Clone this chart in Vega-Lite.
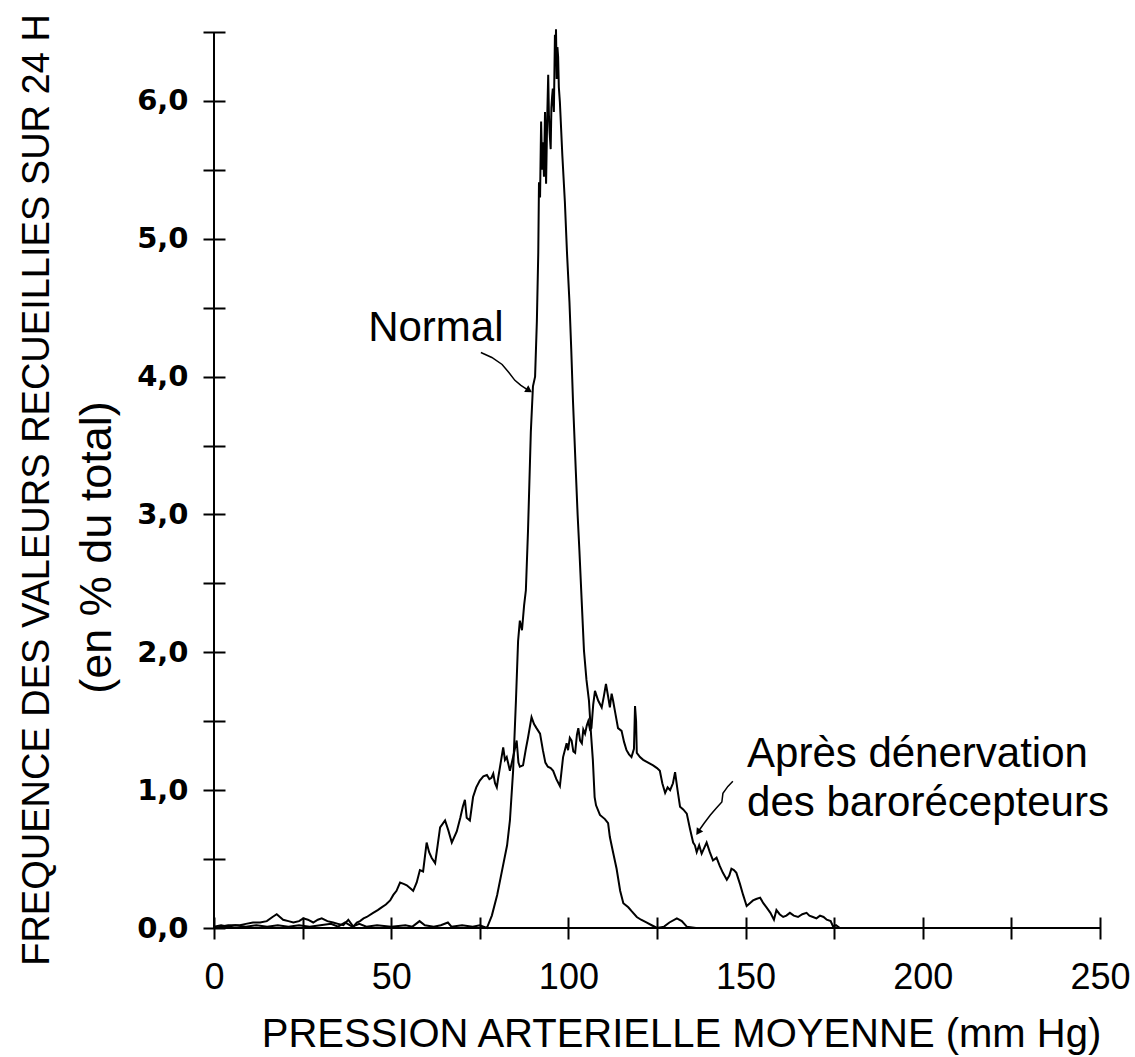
{
  "$schema": "https://vega.github.io/schema/vega-lite/v6.json",
  "width": 886,
  "height": 896,
  "autosize": {"type": "none"},
  "padding": {"left": 214, "top": 32, "right": 35, "bottom": 129},
  "background": "white",
  "config": {"view": {"stroke": null}},
  "title": {
    "text": "FREQUENCE DES VALEURS RECUEILLIES SUR 24 H",
    "orient": "left",
    "anchor": "middle",
    "frame": "group",
    "font": "Liberation Sans",
    "fontSize": 38,
    "fontWeight": "normal",
    "color": "black",
    "offset": 17,
    "dx": -10
  },
  "datasets": {
    "curves": [
      {"s":"N","x":0,"y":0.01},{"s":"N","x":2,"y":0.02},{"s":"N","x":4,"y":0.01},{"s":"N","x":6,"y":0.02},{"s":"N","x":9,"y":0.01},{"s":"N","x":12,"y":0.02},{"s":"N","x":15,"y":0.01},{"s":"N","x":18,"y":0.02},{"s":"N","x":21,"y":0.01},{"s":"N","x":24,"y":0.02},{"s":"N","x":27,"y":0.01},{"s":"N","x":30,"y":0.02},{"s":"N","x":33,"y":0.03},{"s":"N","x":35,"y":0.01},{"s":"N","x":37,"y":0.04},{"s":"N","x":39,"y":0.01},{"s":"N","x":41,"y":0.03},{"s":"N","x":43,"y":0.01},{"s":"N","x":46,"y":0.02},{"s":"N","x":50,"y":0.01},{"s":"N","x":54,"y":0.02},{"s":"N","x":56,"y":0.01},{"s":"N","x":58,"y":0.05},{"s":"N","x":59.5,"y":0.02},{"s":"N","x":62,"y":0.01},{"s":"N","x":64,"y":0.02},{"s":"N","x":66,"y":0.04},{"s":"N","x":67,"y":0.01},{"s":"N","x":70,"y":0.02},{"s":"N","x":73,"y":0.01},{"s":"N","x":75,"y":0.02},{"s":"N","x":77,"y":0.0},
      {"s":"N","x":78.4,"y":0.09},{"s":"N","x":79.9,"y":0.24},{"s":"N","x":81.3,"y":0.42},{"s":"N","x":82.7,"y":0.6},{"s":"N","x":83.5,"y":0.78},{"s":"N","x":84.4,"y":1.14},{"s":"N","x":85.2,"y":1.65},{"s":"N","x":85.8,"y":2.08},{"s":"N","x":86.3,"y":2.23},{"s":"N","x":86.9,"y":2.16},{"s":"N","x":87.5,"y":2.34},{"s":"N","x":88.0,"y":2.45},{"s":"N","x":88.6,"y":2.88},{"s":"N","x":89.4,"y":3.6},{"s":"N","x":90.0,"y":3.93},{"s":"N","x":90.6,"y":4.0},{"s":"N","x":91.1,"y":4.4},{"s":"N","x":91.5,"y":4.9},{"s":"N","x":91.7,"y":5.41},{"s":"N","x":92.0,"y":5.3},{"s":"N","x":92.3,"y":5.85},{"s":"N","x":92.6,"y":5.5},{"s":"N","x":92.8,"y":5.7},{"s":"N","x":93.1,"y":5.45},{"s":"N","x":93.4,"y":5.92},{"s":"N","x":93.7,"y":5.4},{"s":"N","x":94.0,"y":5.85},{"s":"N","x":94.3,"y":6.19},{"s":"N","x":94.5,"y":5.9},{"s":"N","x":94.7,"y":5.77},{"s":"N","x":95.0,"y":5.65},{"s":"N","x":95.2,"y":5.95},{"s":"N","x":95.4,"y":6.03},{"s":"N","x":95.6,"y":6.09},{"s":"N","x":95.9,"y":5.92},{"s":"N","x":96.2,"y":6.48},{"s":"N","x":96.4,"y":6.3},{"s":"N","x":96.5,"y":6.52},{"s":"N","x":96.7,"y":6.16},{"s":"N","x":96.9,"y":6.39},{"s":"N","x":97.1,"y":6.32},{"s":"N","x":97.3,"y":6.1},{"s":"N","x":97.6,"y":5.99},{"s":"N","x":98.3,"y":5.6},{"s":"N","x":99.0,"y":5.27},{"s":"N","x":99.6,"y":4.9},{"s":"N","x":100.3,"y":4.54},{"s":"N","x":100.8,"y":4.2},{"s":"N","x":101.3,"y":3.82},{"s":"N","x":102.1,"y":3.31},{"s":"N","x":102.6,"y":3.0},{"s":"N","x":103.1,"y":2.74},{"s":"N","x":103.7,"y":2.4},{"s":"N","x":104.4,"y":2.01},{"s":"N","x":105.1,"y":1.8},{"s":"N","x":105.8,"y":1.65},{"s":"N","x":106.4,"y":1.4},{"s":"N","x":106.9,"y":1.22},{"s":"N","x":107.4,"y":0.95},{"s":"N","x":107.8,"y":0.89},{"s":"N","x":108.9,"y":0.82},{"s":"N","x":110.3,"y":0.79},{"s":"N","x":111.2,"y":0.76},{"s":"N","x":111.7,"y":0.66},{"s":"N","x":112.6,"y":0.55},{"s":"N","x":113.6,"y":0.43},{"s":"N","x":114.6,"y":0.27},{"s":"N","x":115.5,"y":0.18},{"s":"N","x":116.9,"y":0.15},{"s":"N","x":117.9,"y":0.12},{"s":"N","x":119.3,"y":0.08},{"s":"N","x":120.5,"y":0.06},{"s":"N","x":122,"y":0.04},{"s":"N","x":123.5,"y":0.02},{"s":"N","x":125,"y":0.0},{"s":"N","x":127,"y":0.01},{"s":"N","x":128.5,"y":0.04},{"s":"N","x":130.6,"y":0.07},{"s":"N","x":132,"y":0.05},{"s":"N","x":133.4,"y":0.01},{"s":"N","x":136,"y":0.0},{"s":"N","x":140,"y":0.0},
      {"s":"B","x":0.5,"y":0.0},{"s":"B","x":1.7,"y":0.01},{"s":"B","x":4,"y":0.02},{"s":"B","x":7.3,"y":0.02},{"s":"B","x":9,"y":0.03},{"s":"B","x":11,"y":0.04},{"s":"B","x":13,"y":0.04},{"s":"B","x":14.9,"y":0.05},{"s":"B","x":16.5,"y":0.08},{"s":"B","x":17.7,"y":0.1},{"s":"B","x":18.6,"y":0.08},{"s":"B","x":19.5,"y":0.06},{"s":"B","x":21,"y":0.05},{"s":"B","x":22.4,"y":0.04},{"s":"B","x":24,"y":0.05},{"s":"B","x":25.2,"y":0.07},{"s":"B","x":26.5,"y":0.06},{"s":"B","x":28,"y":0.04},{"s":"B","x":29.3,"y":0.06},{"s":"B","x":30.4,"y":0.07},{"s":"B","x":32,"y":0.05},{"s":"B","x":33.6,"y":0.04},{"s":"B","x":35,"y":0.03},{"s":"B","x":36.5,"y":0.02},{"s":"B","x":37.9,"y":0.06},{"s":"B","x":39.3,"y":0.01},{"s":"B","x":40.3,"y":0.04},{"s":"B","x":41.2,"y":0.05},{"s":"B","x":42.2,"y":0.07},{"s":"B","x":43.1,"y":0.08},{"s":"B","x":44.9,"y":0.11},{"s":"B","x":46.2,"y":0.13},{"s":"B","x":47.3,"y":0.15},{"s":"B","x":48.5,"y":0.17},{"s":"B","x":49.7,"y":0.2},{"s":"B","x":50.6,"y":0.24},{"s":"B","x":51.5,"y":0.27},{"s":"B","x":52.5,"y":0.33},{"s":"B","x":53.5,"y":0.32},{"s":"B","x":54.4,"y":0.31},{"s":"B","x":55.3,"y":0.29},{"s":"B","x":56.2,"y":0.27},{"s":"B","x":57.2,"y":0.33},{"s":"B","x":58.1,"y":0.42},{"s":"B","x":59,"y":0.41},{"s":"B","x":60,"y":0.62},{"s":"B","x":60.7,"y":0.55},{"s":"B","x":61.4,"y":0.51},{"s":"B","x":62.4,"y":0.47},{"s":"B","x":63.1,"y":0.6},{"s":"B","x":63.8,"y":0.73},{"s":"B","x":65.2,"y":0.78},{"s":"B","x":66.1,"y":0.71},{"s":"B","x":67.1,"y":0.62},{"s":"B","x":68.5,"y":0.7},{"s":"B","x":69.5,"y":0.8},{"s":"B","x":70.2,"y":0.88},{"s":"B","x":70.8,"y":0.93},{"s":"B","x":71.3,"y":0.8},{"s":"B","x":72.2,"y":0.78},{"s":"B","x":73.1,"y":0.95},{"s":"B","x":74,"y":1.02},{"s":"B","x":75,"y":1.07},{"s":"B","x":76,"y":1.1},{"s":"B","x":77,"y":1.11},{"s":"B","x":77.7,"y":1.08},{"s":"B","x":78.3,"y":1.09},{"s":"B","x":78.8,"y":1.12},{"s":"B","x":79.3,"y":1.05},{"s":"B","x":79.8,"y":1.02},{"s":"B","x":80.2,"y":1.09},{"s":"B","x":80.9,"y":1.2},{"s":"B","x":81.6,"y":1.31},{"s":"B","x":82.1,"y":1.22},{"s":"B","x":82.6,"y":1.24},{"s":"B","x":83.5,"y":1.14},{"s":"B","x":84.4,"y":1.24},{"s":"B","x":84.9,"y":1.3},{"s":"B","x":85.4,"y":1.36},{"s":"B","x":85.9,"y":1.2},{"s":"B","x":86.3,"y":1.17},{"s":"B","x":87.2,"y":1.18},{"s":"B","x":88,"y":1.3},{"s":"B","x":88.6,"y":1.38},{"s":"B","x":89.6,"y":1.53},{"s":"B","x":90.3,"y":1.48},{"s":"B","x":91,"y":1.45},{"s":"B","x":92,"y":1.41},{"s":"B","x":92.8,"y":1.29},{"s":"B","x":93.5,"y":1.2},{"s":"B","x":94.2,"y":1.17},{"s":"B","x":95,"y":1.16},{"s":"B","x":95.7,"y":1.14},{"s":"B","x":96.6,"y":1.08},{"s":"B","x":97.6,"y":1.03},{"s":"B","x":98.5,"y":1.24},{"s":"B","x":99.5,"y":1.34},{"s":"B","x":99.9,"y":1.29},{"s":"B","x":100.4,"y":1.38},{"s":"B","x":100.9,"y":1.36},{"s":"B","x":101.4,"y":1.28},{"s":"B","x":101.9,"y":1.27},{"s":"B","x":102.4,"y":1.4},{"s":"B","x":102.8,"y":1.45},{"s":"B","x":103.3,"y":1.36},{"s":"B","x":103.8,"y":1.34},{"s":"B","x":104.2,"y":1.44},{"s":"B","x":104.7,"y":1.41},{"s":"B","x":105.2,"y":1.47},{"s":"B","x":105.6,"y":1.5},{"s":"B","x":106.1,"y":1.44},{"s":"B","x":106.5,"y":1.45},{"s":"B","x":107,"y":1.62},{"s":"B","x":107.5,"y":1.72},{"s":"B","x":108.4,"y":1.65},{"s":"B","x":109.4,"y":1.6},{"s":"B","x":110,"y":1.68},{"s":"B","x":110.6,"y":1.77},{"s":"B","x":111.2,"y":1.68},{"s":"B","x":111.7,"y":1.6},{"s":"B","x":112.2,"y":1.7},{"s":"B","x":112.6,"y":1.65},{"s":"B","x":113.3,"y":1.55},{"s":"B","x":114,"y":1.45},{"s":"B","x":115,"y":1.43},{"s":"B","x":115.7,"y":1.35},{"s":"B","x":116.4,"y":1.29},{"s":"B","x":117.1,"y":1.26},{"s":"B","x":117.8,"y":1.24},{"s":"B","x":118.5,"y":1.3},{"s":"B","x":118.8,"y":1.61},{"s":"B","x":119.1,"y":1.5},{"s":"B","x":119.3,"y":1.27},{"s":"B","x":120.2,"y":1.24},{"s":"B","x":121.1,"y":1.22},{"s":"B","x":122.5,"y":1.2},{"s":"B","x":123.9,"y":1.18},{"s":"B","x":125,"y":1.16},{"s":"B","x":125.8,"y":1.14},{"s":"B","x":126.5,"y":1.05},{"s":"B","x":127.3,"y":0.98},{"s":"B","x":128,"y":1.02},{"s":"B","x":128.7,"y":1.0},{"s":"B","x":129.5,"y":1.05},{"s":"B","x":130.1,"y":1.13},{"s":"B","x":130.8,"y":1.0},{"s":"B","x":131.5,"y":0.88},{"s":"B","x":132.4,"y":0.86},{"s":"B","x":133.4,"y":0.83},{"s":"B","x":134.3,"y":0.72},{"s":"B","x":135.2,"y":0.62},{"s":"B","x":135.7,"y":0.6},{"s":"B","x":136.2,"y":0.55},{"s":"B","x":136.9,"y":0.6},{"s":"B","x":137.6,"y":0.54},{"s":"B","x":138.3,"y":0.58},{"s":"B","x":139,"y":0.62},{"s":"B","x":139.9,"y":0.55},{"s":"B","x":140.8,"y":0.49},{"s":"B","x":141.8,"y":0.51},{"s":"B","x":142.7,"y":0.45},{"s":"B","x":143.6,"y":0.4},{"s":"B","x":144.7,"y":0.35},{"s":"B","x":145.4,"y":0.38},{"s":"B","x":146,"y":0.43},{"s":"B","x":146.7,"y":0.42},{"s":"B","x":147.4,"y":0.4},{"s":"B","x":148.4,"y":0.32},{"s":"B","x":149.3,"y":0.24},{"s":"B","x":150.3,"y":0.16},{"s":"B","x":151.2,"y":0.18},{"s":"B","x":152.1,"y":0.2},{"s":"B","x":153,"y":0.21},{"s":"B","x":154.1,"y":0.22},{"s":"B","x":155,"y":0.18},{"s":"B","x":155.9,"y":0.15},{"s":"B","x":157,"y":0.11},{"s":"B","x":158,"y":0.06},{"s":"B","x":158.7,"y":0.13},{"s":"B","x":159.6,"y":0.1},{"s":"B","x":160.6,"y":0.08},{"s":"B","x":161.5,"y":0.09},{"s":"B","x":162.5,"y":0.11},{"s":"B","x":163.6,"y":0.09},{"s":"B","x":164.8,"y":0.08},{"s":"B","x":166,"y":0.1},{"s":"B","x":167.2,"y":0.11},{"s":"B","x":168,"y":0.09},{"s":"B","x":169,"y":0.08},{"s":"B","x":170,"y":0.07},{"s":"B","x":171,"y":0.09},{"s":"B","x":172,"y":0.08},{"s":"B","x":172.9,"y":0.06},{"s":"B","x":174,"y":0.05},{"s":"B","x":174.7,"y":0.01},{"s":"B","x":175.5,"y":0.02},{"s":"B","x":176.6,"y":0.0}
    ],
    "arrows": [
      {"a":1,"i":0,"x":75.3,"y":4.175},{"a":1,"i":1,"x":78.4,"y":4.139},{"a":1,"i":2,"x":81.3,"y":4.088},{"a":1,"i":3,"x":83.2,"y":4.03},{"a":1,"i":4,"x":84.9,"y":3.973},{"a":1,"i":5,"x":86.6,"y":3.936},{"a":1,"i":6,"x":88.3,"y":3.907},
      {"a":2,"i":0,"x":146.4,"y":1.064},{"a":2,"i":1,"x":145.0,"y":1.027},{"a":2,"i":2,"x":143.6,"y":0.977},{"a":2,"i":3,"x":143.3,"y":0.914},{"a":2,"i":4,"x":141.7,"y":0.868},{"a":2,"i":5,"x":140.0,"y":0.818},{"a":2,"i":6,"x":138.3,"y":0.76},{"a":2,"i":7,"x":136.9,"y":0.709}
    ],
    "heads": [
      {"x":88.9,"y":3.9,"ang":32},
      {"x":136.6,"y":0.695,"ang":124}
    ],
    "labels": [
      {"label":"Normal","x":43.5,"y":4.26},
      {"label":"Après dénervation","x":150.4,"y":1.165},
      {"label":"des barorécepteurs","x":150.4,"y":0.81}
    ]
  },
  "layer": [
    {
      "data": {"name": "curves"},
      "mark": {"type": "line", "color": "black", "strokeWidth": 2},
      "encoding": {
        "x": {
          "field": "x", "type": "quantitative",
          "scale": {"domain": [0, 250], "nice": false},
          "axis": {
            "values": [0,25,50,75,100,125,150,175,200,225,250],
            "labelExpr": "datum.value % 50 == 0 ? datum.label : ''",
            "format": "d",
            "domain": false, "grid": false,
            "offset": -11, "tickSize": 22, "tickWidth": 2, "tickColor": "black",
            "labelFont": "Liberation Sans", "labelFontSize": 36, "labelColor": "black",
            "labelBaseline": "alphabetic", "labelPadding": 49, "labelFlush": false, "labelOverlap": false,
            "title": "PRESSION ARTERIELLE MOYENNE (mm Hg)",
            "titleFont": "Liberation Sans", "titleFontSize": 40, "titleFontWeight": "normal", "titleColor": "black",
            "titleX": 467, "titleY": 129, "titleBaseline": "alphabetic", "titleAlign": "center"
          }
        },
        "y": {
          "field": "y", "type": "quantitative",
          "scale": {"domain": [0, 6.5], "nice": false},
          "axis": {
            "values": [0,0.5,1,1.5,2,2.5,3,3.5,4,4.5,5,5.5,6,6.5],
            "labelExpr": "datum.value % 1 == 0 ? replace(format(datum.value, '.1f'), '.', ',') : ''",
            "domain": false, "grid": false,
            "offset": -11, "tickSize": 22, "tickWidth": 2, "tickColor": "black",
            "labelFont": "DejaVu Sans", "labelFontSize": 29, "labelFontWeight": "bold", "labelColor": "black",
            "labelPadding": 15, "labelFlush": false, "labelOverlap": false,
            "title": "(en % du total)",
            "titleFont": "Liberation Sans", "titleFontSize": 45, "titleFontWeight": "normal", "titleColor": "black",
            "titleX": -115, "titleY": 515, "titleAngle": 270, "titleBaseline": "alphabetic", "titleAlign": "center"
          }
        },
        "detail": {"field": "s"}
      }
    },
    {
      "data": {"values": [{}]},
      "mark": {"type": "rule", "color": "black", "strokeWidth": 2},
      "encoding": {"x": {"datum": 0}, "y": {"datum": 0}, "y2": {"datum": 6.5}}
    },
    {
      "data": {"values": [{}]},
      "mark": {"type": "rule", "color": "black", "strokeWidth": 2},
      "encoding": {"x": {"datum": 0}, "x2": {"datum": 250}, "y": {"datum": 0}}
    },
    {
      "data": {"name": "arrows"},
      "mark": {"type": "line", "color": "black", "strokeWidth": 1.5},
      "encoding": {
        "x": {"field": "x", "type": "quantitative"},
        "y": {"field": "y", "type": "quantitative"},
        "detail": {"field": "a"},
        "order": {"field": "i"}
      }
    },
    {
      "data": {"name": "heads"},
      "mark": {"type": "point", "shape": "triangle-right", "filled": true, "color": "black", "opacity": 1, "size": 60},
      "encoding": {
        "x": {"field": "x", "type": "quantitative"},
        "y": {"field": "y", "type": "quantitative"},
        "angle": {"field": "ang", "type": "quantitative", "scale": null}
      }
    },
    {
      "data": {"name": "labels"},
      "mark": {"type": "text", "align": "left", "baseline": "alphabetic", "font": "Liberation Sans", "fontSize": 42, "color": "black"},
      "encoding": {
        "x": {"field": "x", "type": "quantitative"},
        "y": {"field": "y", "type": "quantitative"},
        "text": {"field": "label"}
      }
    }
  ]
}
